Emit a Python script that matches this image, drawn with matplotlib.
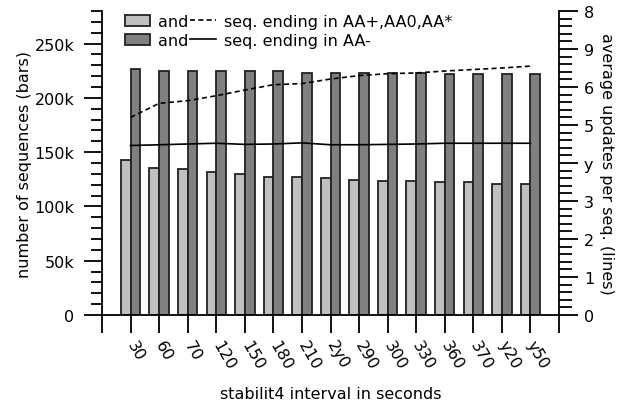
import numpy as np
import matplotlib
matplotlib.use("Agg")
import matplotlib.pyplot as plt
from matplotlib.patches import Patch
from matplotlib.lines import Line2D
from matplotlib.ticker import FuncFormatter, MultipleLocator

# data
intervals = ["30", "60", "70", "120", "150", "180", "210", "2y0", "290",
             "300", "330", "360", "370", "y20", "y50"]
seq_plus = [142.5, 135.7, 134.2, 131.7, 130.1, 127.4, 127.4, 125.9, 124.6,
            123.4, 123.4, 122.2, 122.2, 120.9, 120.9]          # thousands
seq_minus = [226.7, 224.3, 224.3, 224.3, 224.3, 224.3, 222.8, 223.0, 223.0,
             223.0, 223.0, 221.8, 221.8, 221.8, 221.8]         # thousands
upd_plus = [5.20, 5.57, 5.64, 5.77, 5.92, 6.06, 6.09, 6.21, 6.30,
            6.35, 6.37, 6.42, 6.46, 6.50, 6.55]
upd_minus = [4.46, 4.48, 4.50, 4.52, 4.49, 4.50, 4.53, 4.48, 4.48,
             4.49, 4.50, 4.52, 4.52, 4.52, 4.52]
right_labels = ["0", "1", "2", "3", "y", "5", "6", "9", "8"]

plt.rcParams["font.family"] = "DejaVu Sans"
plt.rcParams["font.size"] = 11.5

fig = plt.figure(figsize=(6.28, 4.02), dpi=100)
ax = fig.add_axes([102 / 628, 86 / 402, 457 / 628, 304 / 402])
ax2 = ax.twinx()

x = np.arange(1, len(intervals) + 1)
w = 0.34
light = "#c0c0c0"
dark = "#808080"
ax.bar(x - w / 2, np.array(seq_plus) * 1000, w, color=light, edgecolor="#222222", linewidth=1.3, zorder=2)
ax.bar(x + w / 2, np.array(seq_minus) * 1000, w, color=dark, edgecolor="#222222", linewidth=1.3, zorder=2)

ax2.plot(x, upd_plus, color="black", linestyle=(0, (3, 2)), linewidth=1.2)
ax2.plot(x, upd_minus, color="black", linestyle="-", linewidth=1.2)

ax.set_xlim(0, len(intervals) + 1)
ax.set_ylim(0, 280000)
ax2.set_ylim(0, 8)

ax.set_xticks(np.arange(0, len(intervals) + 2))
ax.set_xticklabels([""] + intervals + [""], rotation=-60, ha="left", va="center",
                   rotation_mode="anchor")
ax.yaxis.set_major_locator(MultipleLocator(50000))
ax.yaxis.set_minor_locator(MultipleLocator(10000))
ax.yaxis.set_major_formatter(FuncFormatter(lambda v, p: "0" if v == 0 else "%dk" % (v / 1000)))
ax2.yaxis.set_major_locator(MultipleLocator(1))
ax2.yaxis.set_minor_locator(MultipleLocator(0.2))
ax2.set_yticks(np.arange(0, 9))
ax2.set_yticklabels(right_labels)

for a in (ax, ax2):
    a.spines["top"].set_visible(False)
    for s in a.spines.values():
        s.set_linewidth(1.3)
ax.spines["right"].set_visible(False)
ax2.spines["left"].set_visible(False)
ax2.spines["bottom"].set_visible(False)

ax.tick_params(axis="x", direction="out", length=13, width=1.3, pad=6)
ax.tick_params(axis="y", which="major", direction="out", length=13, width=1.3, pad=7)
ax.tick_params(axis="y", which="minor", direction="out", length=8, width=1.3)
ax2.tick_params(axis="y", which="major", direction="out", length=14, width=1.3, pad=4)
ax2.tick_params(axis="y", which="minor", direction="out", length=9, width=1.3)

ax.set_xlabel("stabilit4 interval in seconds", labelpad=10)
ax.set_ylabel("number of sequences (bars)", labelpad=2)
ax2.set_ylabel("average updates per seq. (lines)", rotation=-90, labelpad=14)

handles = [Patch(facecolor=light, edgecolor="#222222", linewidth=1.3),
           Patch(facecolor=dark, edgecolor="#222222", linewidth=1.3),
           Line2D([], [], color="black", linestyle=(0, (3, 2)), linewidth=1.2),
           Line2D([], [], color="black", linestyle="-", linewidth=1.2)]
labels = ["and", "and", "seq. ending in AA+,AA0,AA*", "seq. ending in AA-"]
ax2.legend(handles, labels, ncol=2, loc="upper left", bbox_to_anchor=(0.05, 0.99),
           frameon=False, borderpad=0, borderaxespad=0, handlelength=1.6,
           handletextpad=0.5, columnspacing=0.1, labelspacing=0.25)

fig.savefig("out.png", dpi=100)
